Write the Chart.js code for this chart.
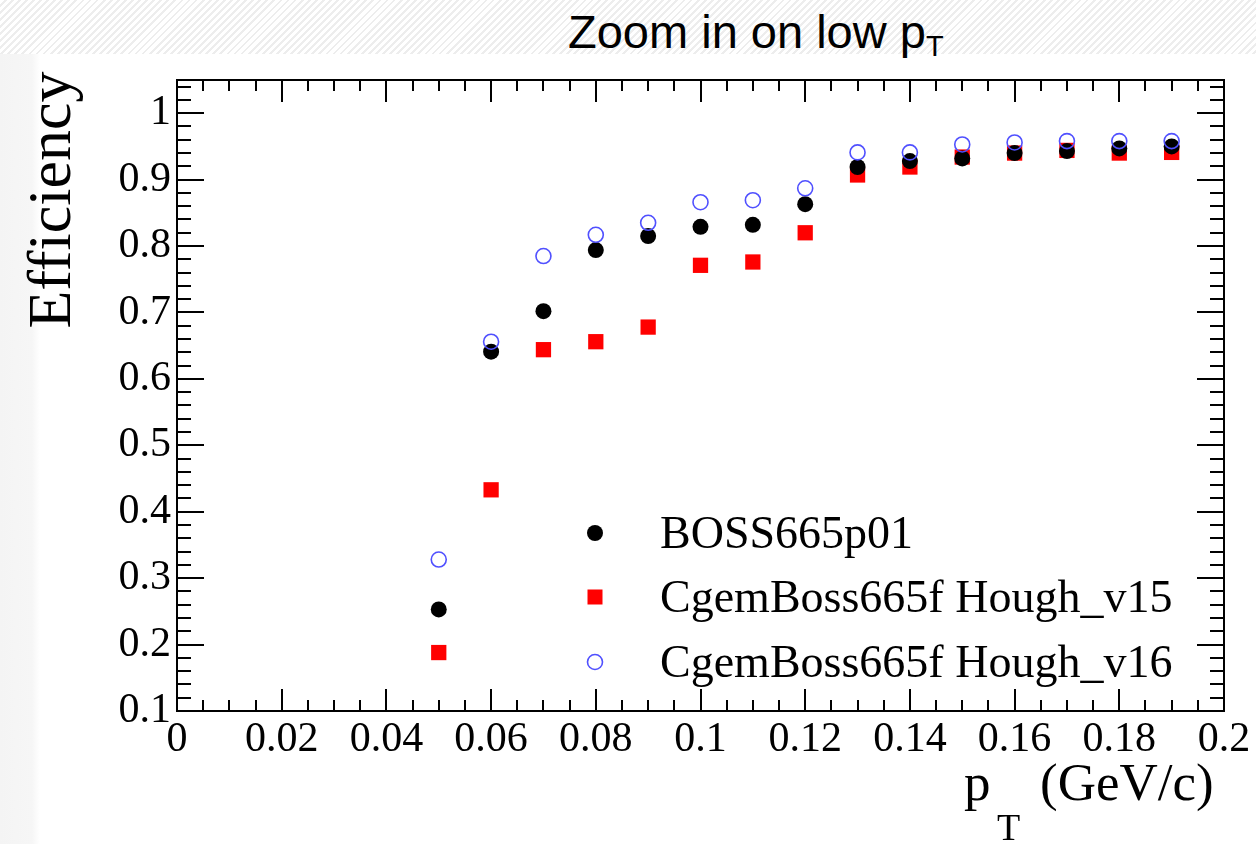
<!DOCTYPE html>
<html>
<head>
<meta charset="utf-8">
<script src="https://cdn.jsdelivr.net/npm/chart.js@4.4.1/dist/chart.umd.min.js"></script>
<style>
    html, body { margin: 0; padding: 0; background: #fff; }
    body { width: 1256px; height: 844px; position: relative; overflow: hidden; }
    .band {
        position: absolute; left: 0; top: 0; width: 1256px; height: 54px;
        background: repeating-linear-gradient(135deg, #ffffff 0px, #ffffff 3px, #ededed 3px, #ededed 5px);
    }
    .side {
        position: absolute; left: 0; top: 54px; width: 40px; height: 790px;
        background: linear-gradient(to right, #f4f4f4, #f6f6f6 80%, #ffffff);
    }
    #title {
        position: absolute; left: 568px; top: 8px; white-space: nowrap;
        font-family: "Liberation Sans", Arial, sans-serif; font-size: 47px; line-height: 1;
        color: #000;
    }
    #title sub { font-size: 29px; vertical-align: -8px; line-height: 0; }
    #chart { position: absolute; left: 0; top: 0; }
</style>
</head>
<body>
<div class="band"></div>
<div class="side"></div>
<div id="title">Zoom in on low p<sub>T</sub></div>
<canvas id="chart" width="1256" height="844"></canvas>
<script>
// pT bin centres (GeV/c)
const ptValues = [0.05, 0.06, 0.07, 0.08, 0.09, 0.10, 0.11, 0.12, 0.13, 0.14, 0.15, 0.16, 0.17, 0.18, 0.19];

// efficiencies
const effBoss = [0.253, 0.641, 0.702, 0.794, 0.815, 0.829, 0.832, 0.863, 0.919, 0.928, 0.932, 0.940, 0.943, 0.947, 0.950];
const effV15  = [0.188, 0.433, 0.644, 0.656, 0.678, 0.771, 0.776, 0.820, 0.907, 0.919, 0.934, 0.940, 0.944, 0.940, 0.941];
const effV16  = [0.328, 0.656, 0.785, 0.817, 0.835, 0.866, 0.869, 0.887, 0.941, 0.941, 0.953, 0.956, 0.958, 0.958, 0.958];

const seriesNames = ['BOSS665p01', 'CgemBoss665f Hough_v15', 'CgemBoss665f Hough_v16'];

// axis ranges and tick steps
const xRange = [0, 0.2];
const yRange = [0.1, 1.05];
const xMajorStep = 0.02, xMinorStep = 0.005;
const yMajorStep = 0.1, yMinorStep = 0.02;

const SERIF = '"Liberation Serif", "Times New Roman", serif';

function toPoints(ys) {
    return ptValues.map((x, i) => ({ x: x, y: ys[i] }));
}

// ROOT-style frame with ticks pointing inwards on all four sides
const frameTicks = {
    id: 'frameTicks',
    afterDatasetsDraw(chart) {
        const ctx = chart.ctx;
        const area = chart.chartArea;
        const xs = chart.scales.x, ys = chart.scales.y;
        ctx.save();
        ctx.strokeStyle = '#000';
        ctx.lineWidth = 2;
        ctx.beginPath();
        // x ticks
        const nx = Math.round((xRange[1] - xRange[0]) / xMinorStep);
        const perX = Math.round(xMajorStep / xMinorStep);
        for (let i = 0; i <= nx; i++) {
            const px = Math.round(xs.getPixelForValue(xRange[0] + i * xMinorStep));
            const len = (i % perX === 0) ? 22 : 11;
            ctx.moveTo(px, area.bottom); ctx.lineTo(px, area.bottom - len);
            ctx.moveTo(px, area.top); ctx.lineTo(px, area.top + len);
        }
        // y ticks
        const i0 = Math.ceil(yRange[0] / yMinorStep - 1e-9);
        const i1 = Math.floor(yRange[1] / yMinorStep + 1e-9);
        const perY = Math.round(yMajorStep / yMinorStep);
        for (let i = i0; i <= i1; i++) {
            const py = Math.round(ys.getPixelForValue(i * yMinorStep));
            const len = (i % perY === 0) ? 27 : 14;
            ctx.moveTo(area.left, py); ctx.lineTo(area.left + len, py);
            ctx.moveTo(area.right, py); ctx.lineTo(area.right - len, py);
        }
        ctx.stroke();
        ctx.strokeRect(area.left, area.top, area.right - area.left, area.bottom - area.top);
        ctx.restore();
    },
    afterDraw(chart) {
        const ctx = chart.ctx;
        ctx.save();
        ctx.fillStyle = '#000';

        // y axis title
        ctx.save();
        ctx.translate(70, 200);
        ctx.rotate(-Math.PI / 2);
        ctx.font = '62px ' + SERIF;
        ctx.textAlign = 'center';
        ctx.textBaseline = 'alphabetic';
        ctx.fillText('Efficiency', 0, 0);
        ctx.restore();

        // x axis title, right aligned, with subscript T
        ctx.textBaseline = 'alphabetic';
        ctx.textAlign = 'left';
        ctx.font = '53px ' + SERIF;
        ctx.fillText('p', 964, 800);
        ctx.fillText('(GeV/c)', 1040, 800);
        ctx.font = '38px ' + SERIF;
        ctx.fillText('T', 997, 840);

        // legend
        const rows = [533, 597, 662];
        chart.data.datasets.forEach((ds, i) => {
            const y = rows[i];
            const x = 595;
            ctx.beginPath();
            if (ds.pointStyle === 'rect') {
                ctx.fillStyle = ds.backgroundColor;
                ctx.fillRect(x - 7.5, y - 7.5, 15, 15);
            } else {
                ctx.arc(x, y, ds.pointRadius, 0, Math.PI * 2);
                if (ds.backgroundColor !== 'transparent') {
                    ctx.fillStyle = ds.backgroundColor;
                    ctx.fill();
                } else {
                    ctx.strokeStyle = ds.borderColor;
                    ctx.lineWidth = ds.borderWidth;
                    ctx.stroke();
                }
            }
            ctx.fillStyle = '#000';
            ctx.font = '46px ' + SERIF;
            ctx.textAlign = 'left';
            ctx.fillText(ds.label, 660, y + 15);
        });
        ctx.restore();
    }
};

const ctx = document.getElementById('chart').getContext('2d');
new Chart(ctx, {
    type: 'scatter',
    data: {
        datasets: [
            {
                label: seriesNames[0],
                data: toPoints(effBoss),
                pointStyle: 'circle',
                pointRadius: 8,
                backgroundColor: '#000000',
                borderColor: '#000000',
                borderWidth: 0,
                order: 1
            },
            {
                label: seriesNames[1],
                data: toPoints(effV15),
                pointStyle: 'rect',
                pointRadius: 10.8,
                backgroundColor: '#ff0000',
                borderColor: '#ff0000',
                borderWidth: 0,
                order: 2
            },
            {
                label: seriesNames[2],
                data: toPoints(effV16),
                pointStyle: 'circle',
                pointRadius: 7.5,
                backgroundColor: 'transparent',
                borderColor: '#5050ff',
                borderWidth: 1.6,
                order: 0
            }
        ]
    },
    options: {
        responsive: false,
        animation: false,
        layout: { padding: { left: 0, top: 80, right: 32, bottom: 0 } },
        plugins: {
            legend: { display: false },
            tooltip: { enabled: false },
            title: { display: false }
        },
        scales: {
            x: {
                type: 'linear',
                min: xRange[0],
                max: xRange[1],
                grid: { display: false, drawTicks: false },
                border: { display: false },
                afterFit: function(scale) { scale.height = 133; },
                ticks: {
                    stepSize: xMajorStep,
                    autoSkip: false,
                    maxRotation: 0,
                    padding: 4,
                    color: '#000',
                    font: { family: SERIF, size: 42 },
                    callback: v => String(parseFloat(v.toFixed(3)))
                }
            },
            y: {
                type: 'linear',
                min: yRange[0],
                max: yRange[1],
                grid: { display: false, drawTicks: false },
                border: { display: false },
                afterFit: function(scale) { scale.width = 177; },
                ticks: {
                    stepSize: yMajorStep,
                    includeBounds: false,
                    autoSkip: false,
                    padding: 6,
                    color: '#000',
                    font: { family: SERIF, size: 42 },
                    callback: v => String(parseFloat(v.toFixed(3)))
                }
            }
        }
    },
    plugins: [frameTicks]
});
</script>
</body>
</html>
